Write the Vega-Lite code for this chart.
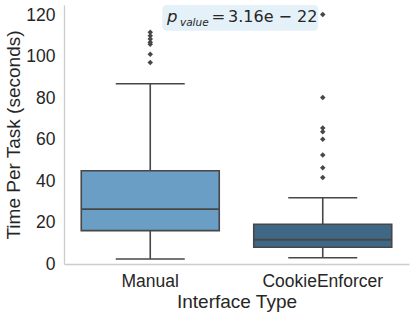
{
  "$schema": "https://vega.github.io/schema/vega-lite/v6.json",
  "width": 345,
  "height": 259,
  "autosize": {"type": "none"},
  "padding": {"left": 64, "top": 5, "right": 6, "bottom": 52},
  "background": "white",
  "config": {
    "view": {"stroke": null},
    "font": "Liberation Sans"
  },
  "datasets": {
    "stats": [
      {"type": "Manual", "lower": 2.4, "q1": 16.1, "median": 26.5, "q3": 45.0, "upper": 87.0},
      {"type": "CookieEnforcer", "lower": 3.0, "q1": 8.1, "median": 11.7, "q3": 19.2, "upper": 32.0}
    ],
    "outliers": [
      {"type": "Manual", "time": 111.8},
      {"type": "Manual", "time": 110.2},
      {"type": "Manual", "time": 108.6},
      {"type": "Manual", "time": 107.0},
      {"type": "Manual", "time": 106.1},
      {"type": "Manual", "time": 101.2},
      {"type": "Manual", "time": 97.3},
      {"type": "CookieEnforcer", "time": 120.4},
      {"type": "CookieEnforcer", "time": 80.4},
      {"type": "CookieEnforcer", "time": 65.6},
      {"type": "CookieEnforcer", "time": 63.8},
      {"type": "CookieEnforcer", "time": 60.2},
      {"type": "CookieEnforcer", "time": 52.6},
      {"type": "CookieEnforcer", "time": 46.5},
      {"type": "CookieEnforcer", "time": 41.8}
    ],
    "annot": [
      {"x0": 0.57, "x1": 1.474, "y0": 112.6, "y1": 125, "px": 0.597, "vx": 0.672, "qx": 0.855, "nx": 0.951, "py": 116.8, "vy": 114.8}
    ]
  },
  "layer": [
    {
      "encoding": {
        "x": {
          "field": "type",
          "type": "nominal",
          "sort": ["Manual", "CookieEnforcer"],
          "scale": {"paddingInner": 0, "paddingOuter": 0},
          "axis": {
            "title": "Interface Type",
            "labelAngle": 0,
            "ticks": false,
            "domainColor": "#cccccc",
            "domainWidth": 1.3,
            "labelFontSize": 17.5,
            "labelColor": "#262626",
            "labelPadding": 8,
            "titleFontSize": 19,
            "titleFontWeight": "normal",
            "titleColor": "#262626",
            "titlePadding": 3
          }
        }
      },
      "layer": [
        {
          "data": {"name": "stats"},
          "mark": {"type": "rule", "color": "#474747", "strokeWidth": 1.6},
          "encoding": {
            "y": {
              "field": "lower",
              "type": "quantitative",
              "scale": {"domain": [0, 125], "nice": false, "zero": false},
              "axis": {
                "title": "Time Per Task (seconds)",
                "values": [0, 20, 40, 60, 80, 100, 120],
                "grid": false,
                "ticks": false,
                "domainColor": "#cccccc",
                "domainWidth": 1.3,
                "labelFontSize": 17.5,
                "labelColor": "#262626",
                "labelPadding": 9,
                "titleFontSize": 19,
                "titleFontWeight": "normal",
                "titleColor": "#262626",
                "titlePadding": 2
              }
            },
            "y2": {"field": "upper"}
          }
        },
        {
          "data": {"name": "stats"},
          "mark": {"type": "bar", "width": {"band": 0.8}, "stroke": "#474747", "strokeWidth": 1.6},
          "encoding": {
            "y": {"field": "q1", "type": "quantitative"},
            "y2": {"field": "q3"},
            "color": {
              "field": "type",
              "type": "nominal",
              "scale": {"domain": ["Manual", "CookieEnforcer"], "range": ["#6a9ec4", "#3f6887"]},
              "legend": null
            }
          }
        },
        {
          "data": {"name": "stats"},
          "mark": {"type": "tick", "color": "#474747", "thickness": 1.8, "size": 138, "opacity": 1},
          "encoding": {"y": {"field": "median", "type": "quantitative"}}
        },
        {
          "data": {"name": "stats"},
          "mark": {"type": "tick", "color": "#474747", "thickness": 1.6, "size": 69, "opacity": 1},
          "encoding": {"y": {"field": "lower", "type": "quantitative"}}
        },
        {
          "data": {"name": "stats"},
          "mark": {"type": "tick", "color": "#474747", "thickness": 1.6, "size": 69, "opacity": 1},
          "encoding": {"y": {"field": "upper", "type": "quantitative"}}
        },
        {
          "data": {"name": "outliers"},
          "mark": {"type": "point", "shape": "diamond", "filled": true, "color": "#474747", "size": 30, "opacity": 1},
          "encoding": {"y": {"field": "time", "type": "quantitative"}}
        }
      ]
    },
    {
      "data": {"name": "annot"},
      "layer": [
        {
          "mark": {"type": "rect", "color": "#e4f1f9", "cornerRadius": 4},
          "encoding": {
            "x": {"field": "x0", "type": "quantitative", "scale": {"domain": [0, 2], "nice": false, "zero": false}, "axis": null},
            "x2": {"field": "x1"},
            "y": {"field": "y0", "type": "quantitative"},
            "y2": {"field": "y1"}
          }
        },
        {
          "mark": {"type": "text", "text": "p", "font": "DejaVu Sans", "fontStyle": "italic", "fontSize": 16.5, "align": "left", "baseline": "alphabetic", "color": "#262626"},
          "encoding": {
            "x": {"field": "px", "type": "quantitative"},
            "y": {"field": "py", "type": "quantitative"}
          }
        },
        {
          "mark": {"type": "text", "text": "value", "font": "DejaVu Sans", "fontStyle": "italic", "fontSize": 10.5, "align": "left", "baseline": "alphabetic", "color": "#262626"},
          "encoding": {
            "x": {"field": "vx", "type": "quantitative"},
            "y": {"field": "vy", "type": "quantitative"}
          }
        },
        {
          "mark": {"type": "text", "text": "=", "font": "DejaVu Sans", "fontSize": 16.5, "align": "left", "baseline": "alphabetic", "color": "#262626"},
          "encoding": {
            "x": {"field": "qx", "type": "quantitative"},
            "y": {"field": "py", "type": "quantitative"}
          }
        },
        {
          "mark": {"type": "text", "text": "3.16e − 22", "font": "DejaVu Sans", "fontSize": 16, "align": "left", "baseline": "alphabetic", "color": "#262626"},
          "encoding": {
            "x": {"field": "nx", "type": "quantitative"},
            "y": {"field": "py", "type": "quantitative"}
          }
        }
      ]
    }
  ],
  "resolve": {"scale": {"x": "independent", "color": "independent"}, "axis": {"x": "independent"}}
}
